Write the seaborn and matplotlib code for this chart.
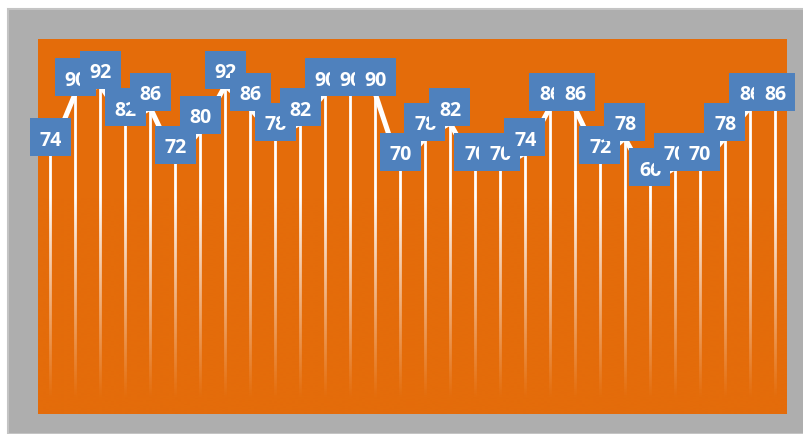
import numpy as np
import pandas as pd
import seaborn as sns
import matplotlib
matplotlib.use("Agg")
import matplotlib.pyplot as plt
import matplotlib.transforms as mtransforms
from matplotlib.patches import Rectangle
from matplotlib.colors import to_rgb

categories = list(range(1, 31))
values = [74, 90, 92, 82, 86, 72, 80, 92, 86, 78, 82, 90, 90, 90, 70,
          78, 82, 70, 70, 74, 86, 86, 72, 78, 66, 70, 70, 78, 86, 86]

ORANGE = "#E46C0A"
GRAY = "#AEAEAE"
BLUE = "#4F81BD"

sns.set_theme(style="white")
plt.rcParams['font.family'] = ['Open Sans', 'DejaVu Sans']

W, H = 804, 435
fig = plt.figure(figsize=(W / 100, H / 100), dpi=100)
fig.patch.set_facecolor("white")
fig.patches.append(Rectangle((8 / W, 0), 1 - 8 / W, 1 - 10 / H, transform=fig.transFigure,
                             facecolor=GRAY, edgecolor="#C4C4C4", lw=1.5, zorder=-10))

ax = fig.add_axes([38 / W, 20 / H, 749 / W, 375 / H])
ax.set_zorder(5)
ax.set_facecolor(ORANGE)
for s in ax.spines.values():
    s.set_visible(False)

df = pd.DataFrame({"idx": np.arange(len(values)), "cat": categories, "value": values})
ymin, ymax = 4.4, 104.4
x0, x1 = -0.5, len(values) - 0.5
ax.set_xlim(x0, x1)
ax.set_ylim(ymin, ymax)

# white drop lines
ax.vlines(df["idx"], ymin, df["value"], colors="white", linewidths=2.0, zorder=2)

# orange fade over the lower part of the drop lines
yy = np.linspace(ymax, ymin, 400)
alpha = np.clip((62 - yy) / (62 - 9), 0, 1) ** 0.9
grad = np.zeros((400, 1, 4))
grad[..., :3] = to_rgb(ORANGE)
grad[:, 0, 3] = alpha
ax.imshow(grad, extent=(x0, x1, ymin, ymax), aspect="auto", zorder=2.5,
          interpolation="bilinear")
ax.set_xlim(x0, x1)
ax.set_ylim(ymin, ymax)

sns.lineplot(data=df, x="idx", y="value", color="white", lw=3.6, ax=ax, zorder=3,
             solid_capstyle="butt")

# labels
for i, v in zip(df["idx"], df["value"]):
    base = mtransforms.ScaledTranslation(i, v, ax.transData)
    rect = Rectangle((-20.5, -3), 41, 38, transform=mtransforms.Affine2D() + base,
                     facecolor=BLUE, edgecolor="none", zorder=10 + 2 * i, clip_on=False)
    ax.add_artist(rect)
    ax.text(0.5, 16 - 7.5, f"{v}", transform=mtransforms.Affine2D() + base,
            ha="center", va="baseline", color="white", fontsize=14,
            fontweight="bold", zorder=11 + 2 * i, clip_on=False)

ax.set_xticks([])
ax.set_yticks([])
ax.set_xlabel("")
ax.set_ylabel("")

fig.savefig("out.png", dpi=100, facecolor=fig.get_facecolor())
